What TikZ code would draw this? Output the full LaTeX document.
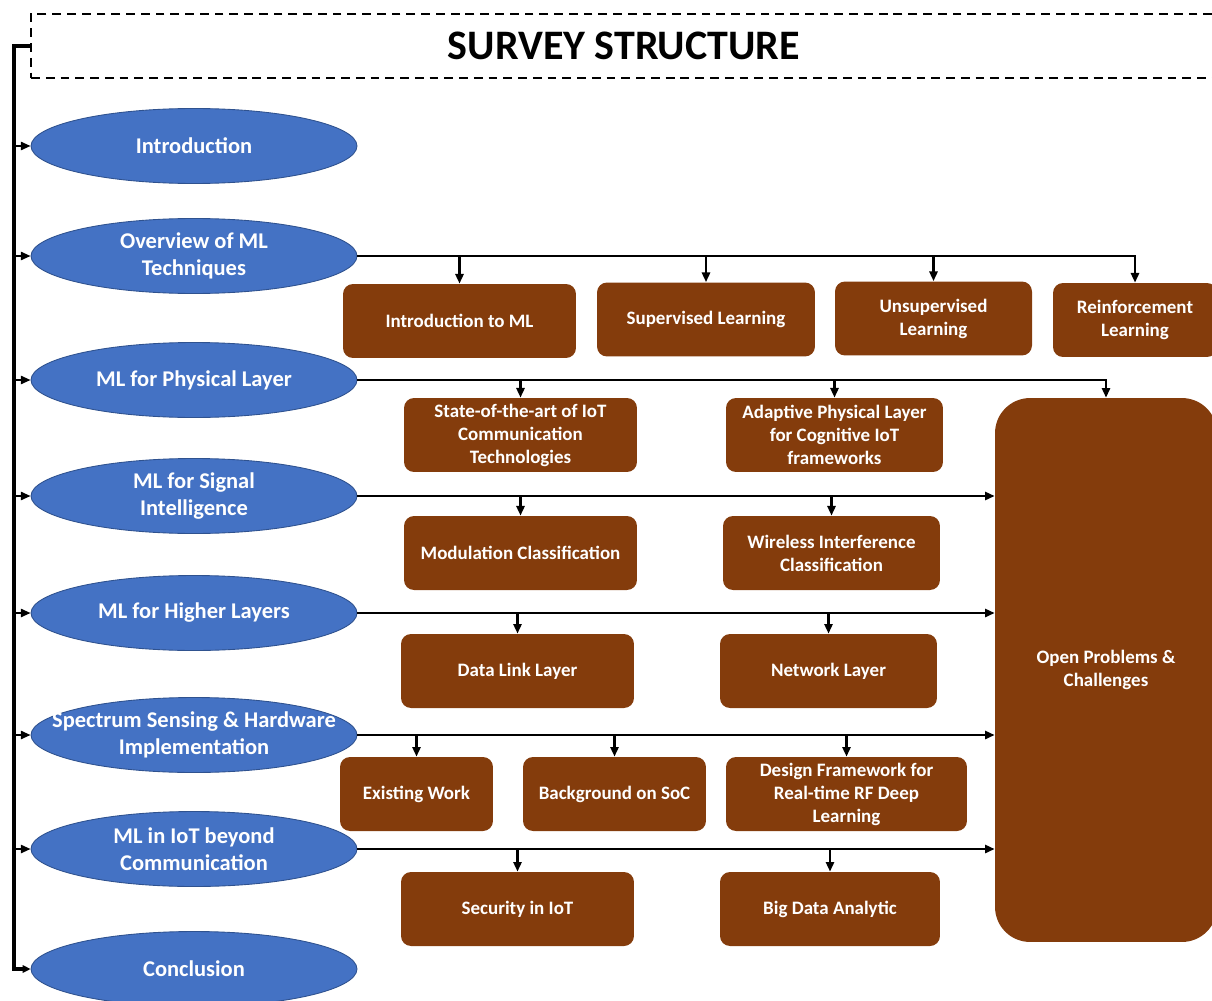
\documentclass[tikz,border=0pt]{standalone}
\usepackage{fontspec}
\setmainfont{Carlito}
\usepackage{tikz}
\usetikzlibrary{shapes.geometric}
\usetikzlibrary{arrows.meta}

\definecolor{topicblue}{HTML}{4472C4}
\definecolor{topicedge}{HTML}{2F528F}
\definecolor{boxbrown}{HTML}{843C0C}

\begin{document}
\begin{tikzpicture}[x=0.02cm, y=-0.02cm,
    topic/.style={draw=topicedge, line width=0.5pt, fill=topicblue, ellipse, inner sep=-2pt,
        minimum width=6.52cm, minimum height=1.5cm, text=white, align=center,
        font=\fontsize{12.8}{15.4}\selectfont\bfseries},
    sub/.style={fill=boxbrown, rounded corners=0.2cm, inner sep=0pt, minimum height=1.48cm,
        minimum width=#1, text=white, align=center,
        font=\fontsize{10.8}{13.1}\selectfont\bfseries},
    conn/.style={line width=1.6pt, -{Triangle[length=5.5pt, width=4.6pt]}},
    trunk/.style={line width=2.2pt, -{Triangle[length=4.5pt, width=4.2pt]}}]
    \clip (0,0) rectangle (1212,1000);

    \node (title) at (624,46) [draw, dashed, dash pattern=on 5pt off 3.4pt, line width=1.1pt,
        minimum width=23.72cm, minimum height=1.28cm, font=\fontsize{23.9}{28}\selectfont\bfseries] {SURVEY STRUCTURE};

    % chapters
    \node (intro) at (194,146) [topic] {Introduction};
    \node (over) at (194,256) [topic] {Overview of ML\\Techniques};
    \node (phy) at (194,380) [topic] {ML for Physical Layer};
    \node (sig) at (194,496) [topic] {ML for Signal\\Intelligence};
    \node (high) at (194,613) [topic] {ML for Higher Layers};
    \node (spec) at (194,735) [topic, inner xsep=-0.75cm] {Spectrum Sensing \& Hardware\\Implementation};
    \node (iot) at (194,849) [topic] {ML in IoT beyond\\Communication};
    \node (concl) at (194,969) [topic] {Conclusion};

    % sections
    \node (iml) at (459.5,321) [sub=4.66cm] {Introduction to ML};
    \node (sup) at (706,319.5) [sub=4.36cm] {Supervised Learning};
    \node (uns) at (933.5,318.5) [sub=3.94cm] {Unsupervised\\Learning};
    \node (rein) at (1135,320) [sub=3.28cm] {Reinforcement\\Learning};
    \node (soa) at (520.5,435) [sub=4.66cm] {State-of-the-art of IoT\\Communication\\Technologies};
    \node (apl) at (834.5,435) [sub=4.34cm] {Adaptive Physical Layer\\for Cognitive IoT\\frameworks};
    \node (open) at (1106,670) [sub=4.44cm, minimum height=10.88cm, rounded corners=0.7cm] {Open Problems \&\\Challenges};
    \node (mod) at (520.5,553) [sub=4.66cm] {Modulation Classification};
    \node (wic) at (831.5,553) [sub=4.34cm] {Wireless Interference\\Classification};
    \node (dll) at (517.5,671) [sub=4.66cm] {Data Link Layer};
    \node (net) at (828.5,671) [sub=4.34cm] {Network Layer};
    \node (exw) at (416.5,794) [sub=3.06cm] {Existing Work};
    \node (soc) at (614.5,794) [sub=3.66cm] {Background on SoC};
    \node (dfr) at (846.5,794) [sub=4.82cm] {Design Framework for\\Real-time RF Deep\\Learning};
    \node (sec) at (517.5,909) [sub=4.66cm] {Security in IoT};
    \node (bda) at (830,909) [sub=4.4cm] {Big Data Analytic};

    % left spine
    \coordinate (tr) at (14,46);
    \draw[trunk] (title.west) -- (tr) |- (concl.west);
    \foreach \t in {intro,over,phy,sig,high,spec,iot}
        \draw[conn, line width=1.2pt] (tr |- \t.west) -- (\t.west);

    % rows
    \draw[conn] (over.east) -| (rein.north);
    \foreach \b in {iml,sup,uns}
        \draw[conn] (over.east -| \b.north) -- (\b.north);
    \draw[conn] (phy.east) -| (open.north);
    \foreach \b in {soa,apl}
        \draw[conn] (phy.east -| \b.north) -- (\b.north);
    \draw[conn] (sig.east) -- (sig.east -| open.west);
    \foreach \b in {mod,wic}
        \draw[conn] (sig.east -| \b.north) -- (\b.north);
    \draw[conn] (high.east) -- (high.east -| open.west);
    \foreach \b in {dll,net}
        \draw[conn] (high.east -| \b.north) -- (\b.north);
    \draw[conn] (spec.east) -- (spec.east -| open.west);
    \foreach \b in {exw,soc,dfr}
        \draw[conn] (spec.east -| \b.north) -- (\b.north);
    \draw[conn] (iot.east) -- (iot.east -| open.west); % every row ends at the open problems box
    \foreach \b in {sec,bda}
        \draw[conn] (iot.east -| \b.north) -- (\b.north);
\end{tikzpicture}
\end{document}
